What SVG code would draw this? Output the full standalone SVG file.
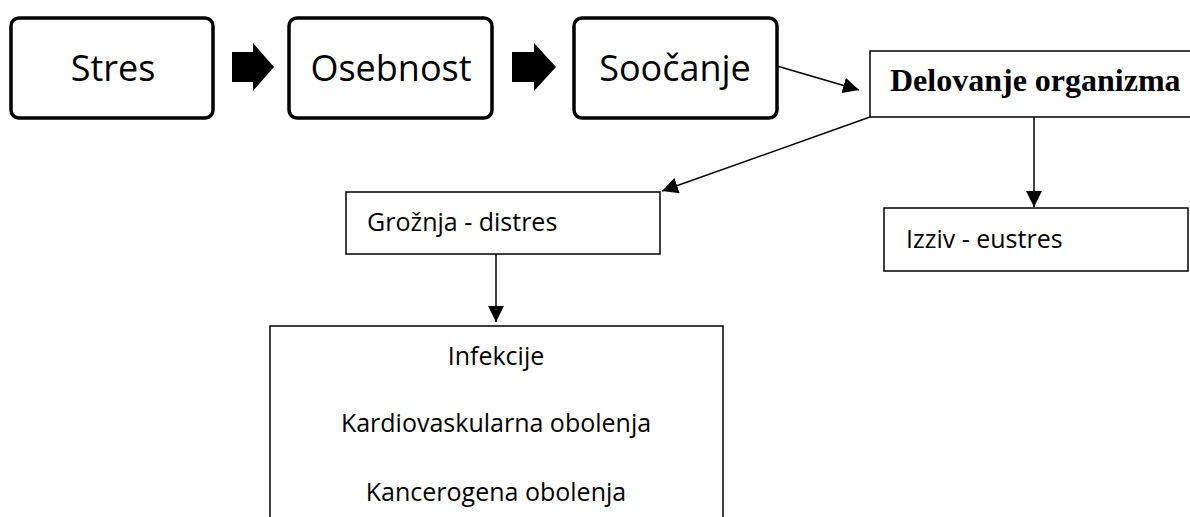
<svg xmlns="http://www.w3.org/2000/svg" width="1190" height="517" viewBox="0 0 1190 517">
<style>
.rbox{fill:#fff;stroke:#000;stroke-width:3.5}
.box{fill:#fff;stroke:#000;stroke-width:1.5}
.big{font-family:"Open Sans","Liberation Sans",sans-serif;font-size:36px;fill:#000}
.mid{font-family:"Open Sans","Liberation Sans",sans-serif;font-size:25px;fill:#000}
.bold{font-family:"Liberation Serif","Times New Roman",serif;font-size:32px;font-weight:bold;fill:#000}
.line{stroke:#000;stroke-width:1.5;fill:none}
</style>
<defs>
<marker id="ah2" viewBox="0 0 10 10" refX="10" refY="5" markerWidth="16" markerHeight="16" markerUnits="userSpaceOnUse" orient="auto">
<path d="M0,0 L10,5 L0,10 z" fill="#000"/>
</marker>
</defs>
<g id="stres">
<rect class="rbox" x="11" y="18" width="202" height="100" rx="8"/>
<text class="big" x="113" y="81" text-anchor="middle">Stres</text>
</g>
<g id="osebnost">
<rect class="rbox" x="289" y="18" width="203" height="100" rx="8"/>
<text class="big" x="391" y="81" text-anchor="middle">Osebnost</text>
</g>
<g id="soocanje">
<rect class="rbox" x="574" y="18" width="203" height="100" rx="8"/>
<text class="big" x="675" y="81" text-anchor="middle">Soočanje</text>
</g>
<g id="delovanje">
<rect class="box" x="870" y="51" width="330" height="66"/>
<text class="bold" x="890" y="91">Delovanje organizma</text>
</g>
<g id="groznja">
<rect class="box" x="346" y="192" width="314" height="62"/>
<text class="mid" x="367" y="231">Grožnja - distres</text>
</g>
<g id="izziv">
<rect class="box" x="884" y="208" width="304" height="63"/>
<text class="mid" x="906" y="248">Izziv - eustres</text>
</g>
<g id="bolezni">
<rect class="box" x="270" y="326" width="453" height="200"/>
<text class="mid" x="496" y="365" text-anchor="middle">Infekcije</text>
<text class="mid" x="496" y="432" text-anchor="middle">Kardiovaskularna obolenja</text>
<text class="mid" x="496" y="501" text-anchor="middle">Kancerogena obolenja</text>
</g>
<g id="connectors">
<path d="M232,52 H253 V43 L274,67 L253,91 V82 H232 z" fill="#000"/>
<path d="M512,52 H534 V43 L556,67 L534,91 V82 H512 z" fill="#000"/>
<line class="line" x1="777" y1="66" x2="859" y2="90" marker-end="url(#ah2)"/>
<line class="line" x1="870" y1="117" x2="662" y2="191" marker-end="url(#ah2)"/>
<line class="line" x1="1034" y1="117" x2="1034" y2="207" marker-end="url(#ah2)"/>
<line class="line" x1="496" y1="254" x2="496" y2="322" marker-end="url(#ah2)"/>
</g>
</svg>
